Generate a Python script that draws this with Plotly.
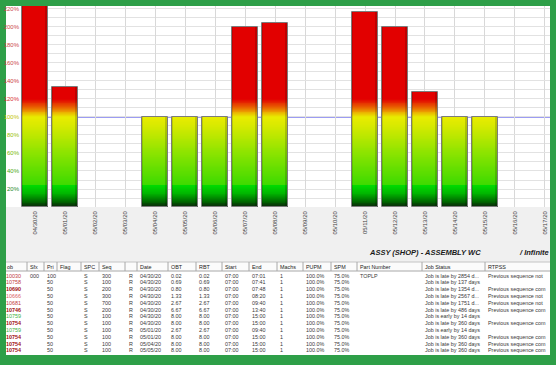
import math
import plotly.graph_objects as go

W, H = 556, 365

# ---------------- data ----------------
dates = ["04/30/20", "05/01/20", "05/02/20", "05/03/20", "05/04/20", "05/05/20",
         "05/06/20", "05/07/20", "05/08/20", "05/09/20", "05/10/20", "05/11/20",
         "05/12/20", "05/13/20", "05/14/20", "05/15/20", "05/16/20", "05/17/20"]
load_pct = [260, 133, 0, 0, 100, 100, 100, 200, 204, 0, 0, 217, 200, 128, 100, 100, 0, 0]

y_tick_vals = [20, 40, 60, 80, 100, 120, 140, 160, 180, 200, 220]
y_tick_labels = ["20%", "40%", "60%", "80%", "100%", "120%", "140%", "160%", "180%", "200%", "220%"]

chart_title = "ASSY (SHOP) - ASSEMBLY WC"
mode_label = "/ Infinite"

col_headers = ["ob", "Sfx", "Pri", "Flag", "SPC", "Seq", "", "Date", "OBT", "RBT", "Start",
               "End", "Machs", "PUPM", "SPM", "Part Number", "Job Status", "RTPSS"]
job = ["10030", "10758", "10690", "10666", "10681", "10746", "10759", "10754",
       "10759", "10754", "10754", "10754"]
sfx = ["000", "", "", "", "", "", "", "", "", "", "", ""]
pri = ["100"] + ["50"] * 11
flag = [""] * 12
spc = ["S"] * 12
seq = ["300", "100", "200", "300", "700", "200", "100", "100", "100", "100", "100", "100"]
rcol = ["R"] * 12
date = ["04/30/20"] * 8 + ["05/01/20", "05/01/20", "05/04/20", "05/05/20"]
obt = ["0.02", "0.69", "0.80", "1.33", "2.67", "6.67", "8.00", "8.00", "2.67", "8.00", "8.00", "8.00"]
rbt = ["0.02", "0.69", "0.80", "1.33", "2.67", "6.67", "8.00", "8.00", "2.67", "8.00", "8.00", "8.00"]
start = ["07:00"] * 12
end = ["07:01", "07:41", "07:48", "08:20", "09:40", "13:40", "15:00", "15:00",
       "09:40", "15:00", "15:00", "15:00"]
machs = ["1"] * 12
pupm = ["100.0%"] * 12
spm = ["75.0%"] * 12
part = ["TOPLP"] + [""] * 11
status = ["Job is late by 2854 d...", "Job is late by 137 days", "Job is late by 1354 d...",
          "Job is late by 2567 d...", "Job is late by 1751 d...", "Job is late by 486 days",
          "Job is early by 14 days", "Job is late by 360 days", "Job is early by 14 days",
          "Job is late by 360 days", "Job is late by 360 days", "Job is late by 360 days"]
rtpss = ["Previous sequence not", "", "Previous sequence com", "Previous sequence not",
         "Previous sequence not", "Previous sequence com", "", "Previous sequence com", "",
         "Previous sequence com", "Previous sequence com", "Previous sequence com"]
job_late_flag = ["late", "late", "lateb", "late2", "late", "lateb", "early", "lateb",
                 "early", "lateb", "lateb", "lateb"]

# ---------------- styles ----------------
GREEN = "#2e9f48"
FONT = "Liberation Sans, Arial, sans-serif"
JOB_COLORS = {"late": "#c03a3a", "late2": "#d86060", "lateb": "#a01010", "early": "#3cb03c"}
TICK_COLORS = {20: "#1f8a1f", 40: "#4aa810", 60: "#78b800", 80: "#98c000", 100: "#c4c400",
               120: "#d83030", 140: "#cc4040", 160: "#cc4848", 180: "#cc4848",
               200: "#cc4848", 220: "#cc4848"}
GRAD_STOPS = [(0, (10, 40, 10)), (6, (0, 100, 0)), (14, (0, 175, 0)), (23.9, (0, 220, 0)),
              (24.0, (60, 218, 0)), (60, (140, 228, 0)), (92, (220, 234, 0)),
              (100, (232, 236, 0)), (106, (236, 160, 0)), (112, (232, 80, 0)),
              (120, (226, 0, 0)), (400, (226, 0, 0))]


def grad(v):
    for (a, ca), (b, cb) in zip(GRAD_STOPS[:-1], GRAD_STOPS[1:]):
        if a <= v <= b:
            t = 0 if b == a else (v - a) / (b - a)
            c = [round(ca[i] + (cb[i] - ca[i]) * t) for i in range(3)]
            return "rgb(%d,%d,%d)" % tuple(c)
    return "rgb(226,0,0)"


def fx(px):
    return px / W


def fy(py):
    return 1 - py / H


BAR_W = 0.87
STEP = 1.0

seg_x, seg_y, seg_c = [], [], []
for d, v in zip(dates, load_pct):
    if v <= 0:
        continue
    n = int(math.ceil(v / STEP))
    for j in reversed(range(n)):
        top = min(v, (j + 1) * STEP)
        mid = min(v, j * STEP + STEP / 2)
        seg_x.append(d)
        seg_y.append(top)
        seg_c.append(grad(mid))

fig = go.Figure()
fig.add_trace(go.Bar(x=seg_x, y=seg_y, marker=dict(color=seg_c, line=dict(width=0)),
                     width=BAR_W, offset=-BAR_W / 2, hoverinfo="skip", showlegend=False))

bar_vals = [v if v > 0 else None for v in load_pct]
# cylinder-like shading
for off, wd, col in [(BAR_W / 2 - 0.10, 0.10, "rgba(0,0,0,0.16)"),
                     (BAR_W / 2 - 0.045, 0.045, "rgba(0,0,0,0.22)"),
                     (-BAR_W / 2, 0.035, "rgba(0,0,0,0.14)")]:
    fig.add_trace(go.Bar(x=dates, y=bar_vals, width=wd, offset=off,
                         marker=dict(color=col, line=dict(width=0)),
                         hoverinfo="skip", showlegend=False))
fig.add_trace(go.Bar(x=dates, y=bar_vals, width=BAR_W, offset=-BAR_W / 2,
                     marker=dict(color="rgba(0,0,0,0)", line=dict(color="#7c7c7c", width=1)),
                     showlegend=False))

shapes = [
    dict(type="rect", xref="paper", yref="paper", x0=fx(6), x1=fx(550), y0=fy(355), y1=fy(6),
         fillcolor="white", line=dict(width=0), layer="below"),
    dict(type="rect", xref="paper", yref="paper", x0=fx(6), x1=fx(550), y0=fy(262), y1=fy(207),
         fillcolor="#f0f0f0", line=dict(width=0), layer="below"),
    dict(type="line", xref="x domain", yref="y", x0=0, x1=1, y0=100, y1=100,
         line=dict(color="#9c9cf2", width=2), layer="below"),
]

# ---------------- table (drawn with shapes + annotations) ----------------
col_widths = [21, 17, 13, 24, 18, 26, 12, 31, 28, 26, 27, 28, 26, 28, 26, 65, 63, 65]
columns = [job, sfx, pri, flag, spc, seq, rcol, date, obt, rbt, start, end, machs,
           pupm, spm, part, status, rtpss]
HDR_TOP, HDR_BOT = 262, 271
ROW0, ROW_H = 275.6, 6.8
TXT = 5.4

lefts = []
acc = 6
for wdt in col_widths:
    lefts.append(acc)
    acc += wdt

shapes.append(dict(type="rect", xref="paper", yref="paper", x0=fx(6), x1=fx(550),
                   y0=fy(HDR_BOT), y1=fy(HDR_TOP), fillcolor="#fbfbfb",
                   line=dict(width=0), layer="above"))
shapes.append(dict(type="line", xref="paper", yref="paper", x0=fx(6), x1=fx(550),
                   y0=fy(HDR_TOP), y1=fy(HDR_TOP), line=dict(color="#c4c4c4", width=1)))
shapes.append(dict(type="line", xref="paper", yref="paper", x0=fx(6), x1=fx(550),
                   y0=fy(HDR_BOT), y1=fy(HDR_BOT), line=dict(color="#a8a8a8", width=1)))
for l in lefts[1:]:
    shapes.append(dict(type="line", xref="paper", yref="paper", x0=fx(l), x1=fx(l),
                       y0=fy(HDR_BOT), y1=fy(HDR_TOP), line=dict(color="#a8a8a8", width=1)))

annotations = []


def add_text(txt, xpx, ypx, size=TXT, color="#383838", anchor="left"):
    annotations.append(dict(text=txt, x=fx(xpx), y=fy(ypx), xref="paper", yref="paper",
                            xanchor=anchor, yanchor="middle", showarrow=False,
                            borderpad=0, borderwidth=0,
                            font=dict(family=FONT, size=size, color=color)))


for ci, (hdr, l, wdt) in enumerate(zip(col_headers, lefts, col_widths)):
    if hdr:
        add_text(hdr, l + (1 if ci == 0 else 3), (HDR_TOP + HDR_BOT) / 2, color="#222222")
    for ri, val in enumerate(columns[ci]):
        if not val:
            continue
        yy = ROW0 + ri * ROW_H
        if ci == 0:
            col = JOB_COLORS[job_late_flag[ri]]
            txt = "<b>%s</b>" % val if job_late_flag[ri] == "lateb" else val
            add_text(txt, l, yy, color=col)
        elif ci == 6:
            add_text(val, l + wdt / 2, yy, anchor="center")
        else:
            add_text(val, l + 3, yy)

add_text("<b><i>%s</i></b>" % chart_title, 425, 252.5, size=7.5, color="#1a1a1a", anchor="center")
add_text("<b><i>%s</i></b>" % mode_label, 519, 252.5, size=7.5, color="#1a1a1a")

tick_text = ['<span style="color:%s">%s</span>' % (TICK_COLORS[v], t)
             for v, t in zip(y_tick_vals, y_tick_labels)]

fig.update_layout(
    width=W, height=H, margin=dict(l=0, r=0, t=0, b=0, pad=0, autoexpand=False),
    paper_bgcolor=GREEN, plot_bgcolor="white",
    barmode="overlay", bargap=0, showlegend=False,
    shapes=shapes, annotations=annotations,
    font=dict(family=FONT, size=6, color="#333333"),
    xaxis=dict(domain=[fx(21), fx(550)], type="category", range=[-0.467, 17.167],
               automargin=False,
               tickangle=-90, tickfont=dict(size=6, color="#404040"),
               showgrid=True, gridcolor="#d8d8d8", gridwidth=1, ticks="",
               showline=False, zeroline=False, ticklabelstandoff=2,
               categoryorder="array", categoryarray=dates),
    yaxis=dict(domain=[fy(207), fy(6)], range=[0, 223.3], tickvals=y_tick_vals,
               automargin=False,
               ticktext=tick_text, tickfont=dict(size=6), showgrid=True,
               gridcolor="#e2e2e2", gridwidth=1, ticks="", zeroline=False,
               showline=False, ticklabelstandoff=1,
               minor=dict(dtick=10, tick0=0, showgrid=True, gridcolor="#e2e2e2", gridwidth=1)),
)

fig.write_html("out.html", config={"displayModeBar": False},
               post_script="document.body.style.margin='0';document.body.style.overflow='hidden';")
